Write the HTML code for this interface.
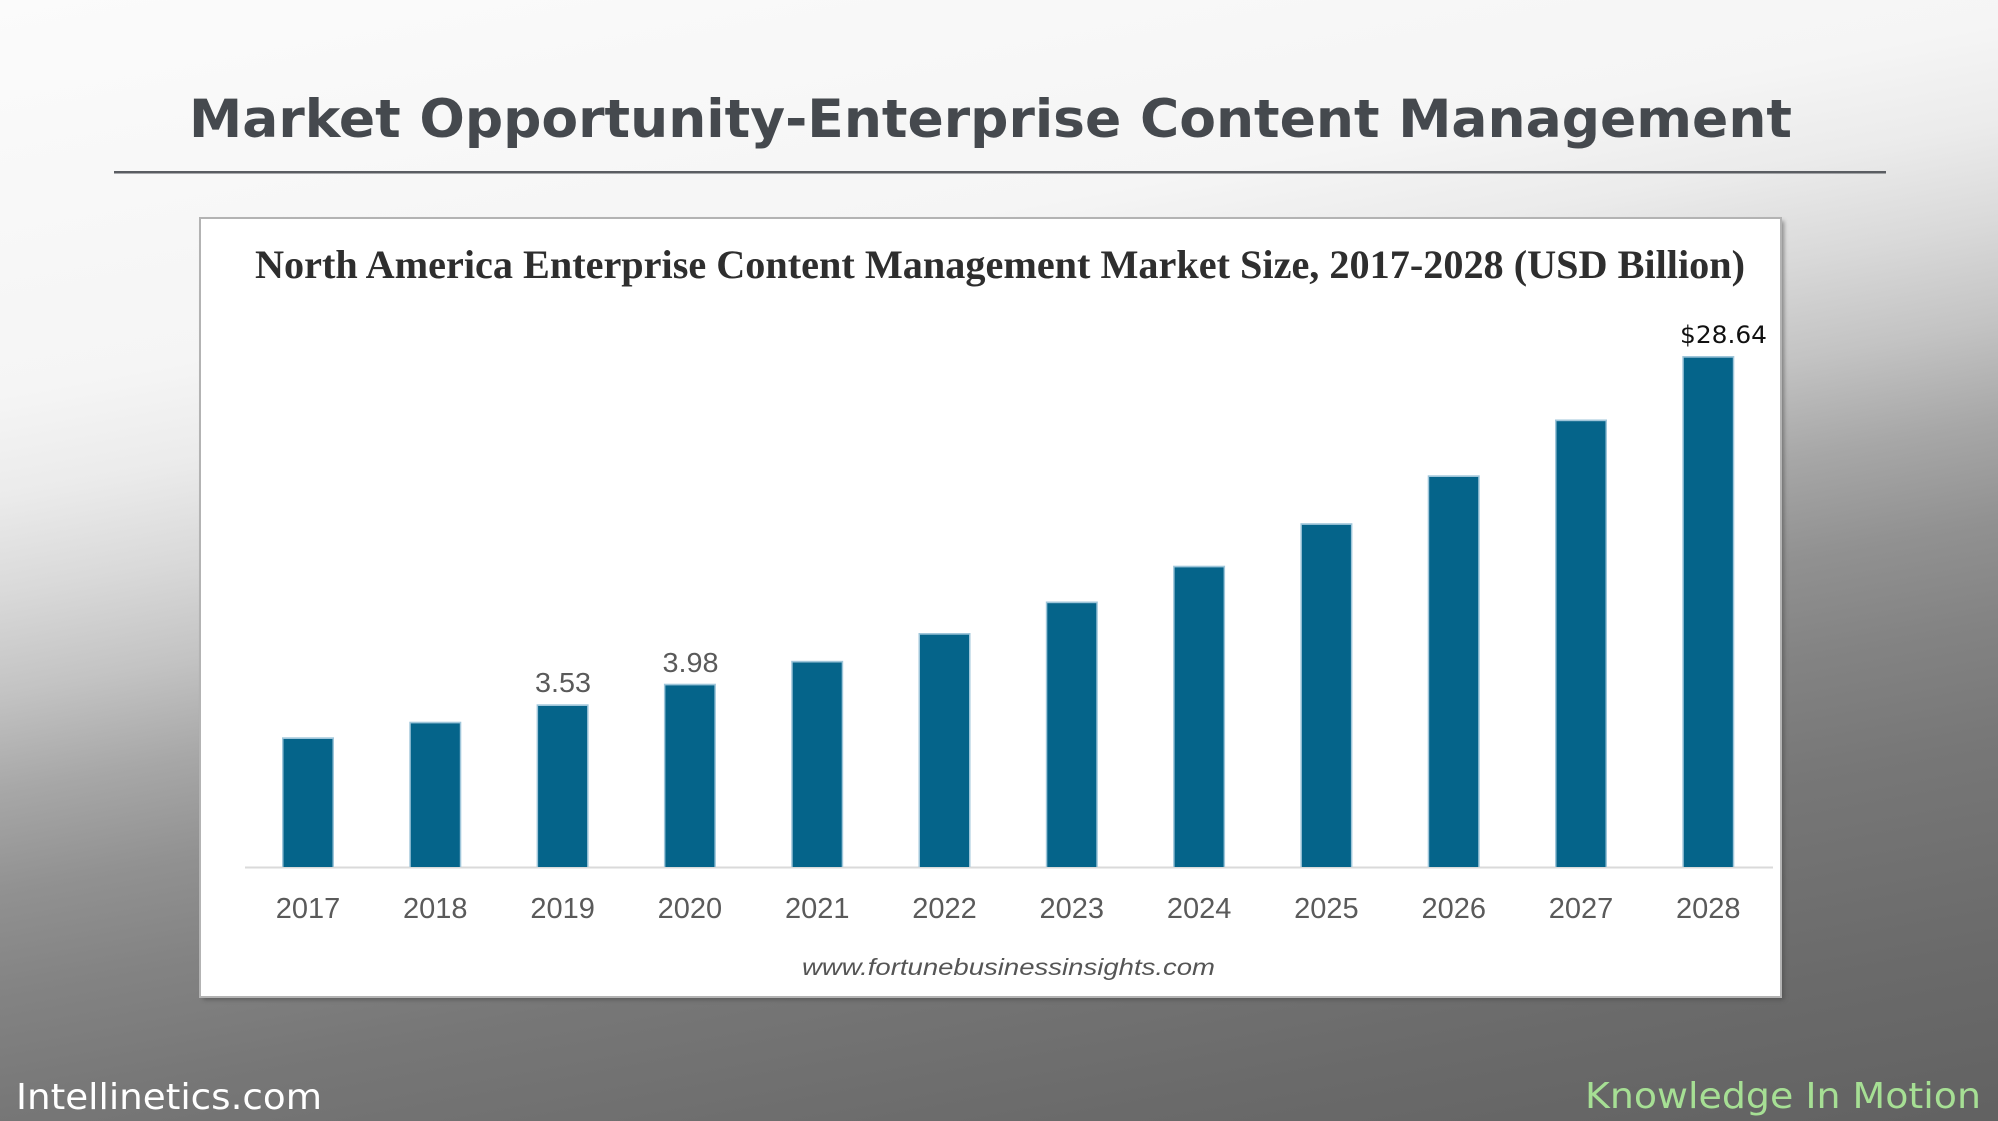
<!DOCTYPE html>
<html>
<head>
<meta charset="utf-8">
<style>
  html, body { margin: 0; padding: 0; width: 1998px; height: 1121px; overflow: hidden; background: #888; }
  svg { display: block; }
</style>
</head>
<body>
<svg width="1998" height="1121" viewBox="0 0 1998 1121" xmlns="http://www.w3.org/2000/svg">
  <defs>
    <linearGradient id="bg" gradientUnits="userSpaceOnUse" x1="0" y1="0" x2="282" y2="1514">
      <stop offset="0" stop-color="#fbfbfb"/>
      <stop offset="0.253" stop-color="#f5f5f5"/>
      <stop offset="0.317" stop-color="#ebebeb"/>
      <stop offset="0.38" stop-color="#d9d9d9"/>
      <stop offset="0.4435" stop-color="#c3c3c3"/>
      <stop offset="0.506" stop-color="#a7a7a7"/>
      <stop offset="0.57" stop-color="#919191"/>
      <stop offset="0.634" stop-color="#838383"/>
      <stop offset="0.71" stop-color="#777777"/>
      <stop offset="0.844" stop-color="#6a6a6a"/>
      <stop offset="1" stop-color="#5e5e5e"/>
    </linearGradient>
    <filter id="sh" x="-5%" y="-5%" width="110%" height="110%">
      <feGaussianBlur stdDeviation="2"/>
    </filter>
  </defs>

  <!-- background -->
  <rect x="0" y="0" width="1998" height="1121" fill="url(#bg)"/>

  <!-- main title -->
  <text x="189" y="137" font-family="'DejaVu Sans', Verdana, sans-serif" font-weight="bold" font-size="53" fill="#45494e" textLength="1603" lengthAdjust="spacingAndGlyphs">Market Opportunity-Enterprise Content Management</text>
  <rect x="114" y="171" width="1772" height="2.5" fill="#5a5d62"/>

  <!-- card shadow + card -->
  <rect x="203" y="221" width="1581" height="779" fill="#444" opacity="0.55" filter="url(#sh)"/>
  <rect x="200" y="218" width="1581" height="779" fill="#ffffff" stroke="#b3b3b3" stroke-width="2"/>

  <!-- chart title -->
  <text x="255" y="278" font-family="'Liberation Serif', 'Times New Roman', serif" font-weight="bold" font-size="40" fill="#2e2e2e" textLength="1490" lengthAdjust="spacingAndGlyphs">North America Enterprise Content Management Market Size, 2017-2028 (USD Billion)</text>

  <!-- baseline -->
  <rect x="245" y="866.5" width="1528" height="2" fill="#dadada"/>

  <!-- bars -->
  <g>
    <rect x="282" y="737.3" width="52" height="129.7" fill="#9fc6da"/>
    <rect x="283.5" y="739" width="49" height="128" fill="#05648a"/>

    <rect x="409.3" y="721.7" width="52" height="145.3" fill="#9fc6da"/>
    <rect x="410.8" y="723.4" width="49" height="143.6" fill="#05648a"/>

    <rect x="536.6" y="704.3" width="52" height="162.7" fill="#9fc6da"/>
    <rect x="538.1" y="706" width="49" height="161" fill="#05648a"/>

    <rect x="663.9" y="683.7" width="52" height="183.3" fill="#9fc6da"/>
    <rect x="665.4" y="685.4" width="49" height="181.6" fill="#05648a"/>

    <rect x="791.2" y="660.8" width="52" height="206.2" fill="#9fc6da"/>
    <rect x="792.7" y="662.5" width="49" height="204.5" fill="#05648a"/>

    <rect x="918.5" y="633" width="52" height="234" fill="#9fc6da"/>
    <rect x="920" y="634.7" width="49" height="232.3" fill="#05648a"/>

    <rect x="1045.8" y="601.5" width="52" height="265.5" fill="#9fc6da"/>
    <rect x="1047.3" y="603.2" width="49" height="263.8" fill="#05648a"/>

    <rect x="1173.1" y="565.7" width="52" height="301.3" fill="#9fc6da"/>
    <rect x="1174.6" y="567.4" width="49" height="299.6" fill="#05648a"/>

    <rect x="1300.4" y="523.2" width="52" height="343.8" fill="#9fc6da"/>
    <rect x="1301.9" y="524.9" width="49" height="342.1" fill="#05648a"/>

    <rect x="1427.7" y="475.3" width="52" height="391.7" fill="#9fc6da"/>
    <rect x="1429.2" y="477" width="49" height="390" fill="#05648a"/>

    <rect x="1555" y="419.5" width="52" height="447.5" fill="#9fc6da"/>
    <rect x="1556.5" y="421.2" width="49" height="445.8" fill="#05648a"/>

    <rect x="1682.3" y="356" width="52" height="511" fill="#9fc6da"/>
    <rect x="1683.8" y="357.7" width="49" height="509.3" fill="#05648a"/>
  </g>

  <!-- value labels -->
  <text x="563" y="692" text-anchor="middle" font-family="'Liberation Sans', Arial, sans-serif" font-size="28" fill="#5a5a5a" textLength="56" lengthAdjust="spacingAndGlyphs">3.53</text>
  <text x="690.5" y="672" text-anchor="middle" font-family="'Liberation Sans', Arial, sans-serif" font-size="28" fill="#5a5a5a" textLength="56" lengthAdjust="spacingAndGlyphs">3.98</text>
  <text x="1680" y="343" font-family="'DejaVu Sans', Verdana, sans-serif" font-size="24" fill="#111111" textLength="87" lengthAdjust="spacingAndGlyphs">$28.64</text>

  <!-- year labels -->
  <g font-family="'Liberation Sans', Arial, sans-serif" font-size="29" fill="#5a5a5a" text-anchor="middle">
    <text x="308" y="918">2017</text>
    <text x="435.3" y="918">2018</text>
    <text x="562.6" y="918">2019</text>
    <text x="689.9" y="918">2020</text>
    <text x="817.2" y="918">2021</text>
    <text x="944.5" y="918">2022</text>
    <text x="1071.8" y="918">2023</text>
    <text x="1199.1" y="918">2024</text>
    <text x="1326.4" y="918">2025</text>
    <text x="1453.7" y="918">2026</text>
    <text x="1581" y="918">2027</text>
    <text x="1708.3" y="918">2028</text>
  </g>

  <!-- source -->
  <text x="802" y="975" font-family="'Liberation Sans', Arial, sans-serif" font-style="italic" font-size="23" fill="#555555" textLength="413" lengthAdjust="spacingAndGlyphs">www.fortunebusinessinsights.com</text>

  <!-- footer -->
  <text x="16" y="1109" font-family="'DejaVu Sans', Verdana, sans-serif" font-size="36" fill="#ffffff" textLength="306" lengthAdjust="spacingAndGlyphs">Intellinetics.com</text>
  <text x="1585" y="1108" font-family="'DejaVu Sans', Verdana, sans-serif" font-size="36" fill="#a6df94" textLength="396" lengthAdjust="spacingAndGlyphs">Knowledge In Motion</text>
</svg>
</body>
</html>
